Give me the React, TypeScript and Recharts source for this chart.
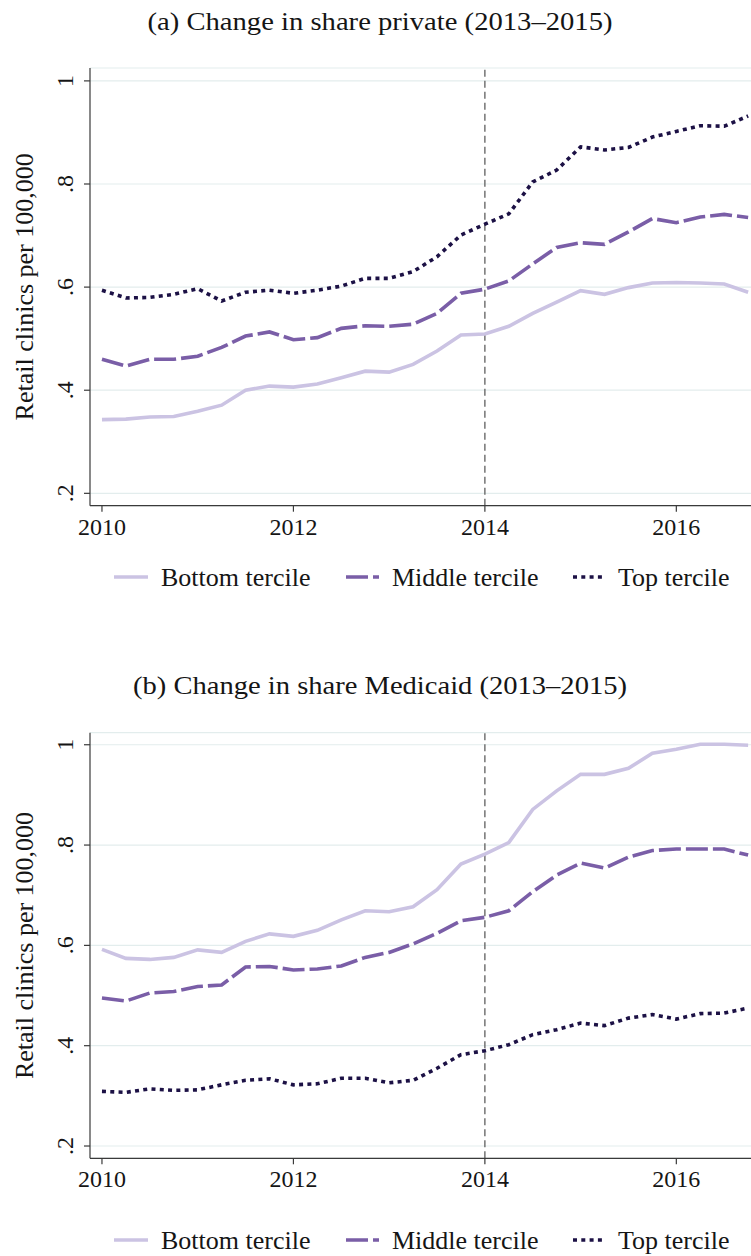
import React from 'react';
import { LineChart, Line, XAxis, YAxis, CartesianGrid, ReferenceLine, Label } from 'recharts';

// ── Data ───────────────────────────────────────────────────────
const QUARTERS = [
  2010, 2010.25, 2010.5, 2010.75, 2011, 2011.25, 2011.5, 2011.75,
  2012, 2012.25, 2012.5, 2012.75, 2013, 2013.25, 2013.5, 2013.75,
  2014, 2014.25, 2014.5, 2014.75, 2015, 2015.25, 2015.5, 2015.75,
  2016, 2016.25, 2016.5, 2016.75,
];

// (a) change in share private
const PRIVATE_BOTTOM = [
  0.343, 0.344, 0.348, 0.349, 0.359, 0.371, 0.400, 0.408,
  0.406, 0.412, 0.424, 0.437, 0.435, 0.450, 0.476, 0.507,
  0.509, 0.524, 0.549, 0.571, 0.593, 0.586, 0.599, 0.608,
  0.609, 0.608, 0.606, 0.590,
];
const PRIVATE_MIDDLE = [
  0.460, 0.447, 0.460, 0.460, 0.466, 0.483, 0.505, 0.513,
  0.498, 0.502, 0.520, 0.525, 0.524, 0.528, 0.549, 0.588,
  0.596, 0.612, 0.645, 0.677, 0.686, 0.683, 0.707, 0.733,
  0.725, 0.736, 0.741, 0.735,
];
const PRIVATE_TOP = [
  0.594, 0.579, 0.580, 0.586, 0.597, 0.573, 0.590, 0.594,
  0.588, 0.594, 0.602, 0.617, 0.617, 0.630, 0.659, 0.701,
  0.722, 0.742, 0.804, 0.827, 0.872, 0.866, 0.871, 0.891,
  0.902, 0.913, 0.912, 0.932,
];

// (b) change in share Medicaid
const MEDICAID_BOTTOM = [
  0.592, 0.574, 0.572, 0.576, 0.591, 0.586, 0.608, 0.623,
  0.618, 0.630, 0.651, 0.669, 0.667, 0.677, 0.711, 0.762,
  0.782, 0.805, 0.871, 0.908, 0.941, 0.941, 0.953, 0.983,
  0.991, 1.001, 1.001, 0.999,
];
const MEDICAID_MIDDLE = [
  0.495, 0.489, 0.505, 0.508, 0.518, 0.521, 0.557, 0.558,
  0.551, 0.553, 0.559, 0.576, 0.586, 0.603, 0.624, 0.649,
  0.656, 0.669, 0.707, 0.740, 0.764, 0.754, 0.776, 0.789,
  0.792, 0.792, 0.792, 0.780,
];
const MEDICAID_TOP = [
  0.309, 0.307, 0.314, 0.311, 0.312, 0.322, 0.331, 0.334,
  0.322, 0.324, 0.335, 0.335, 0.326, 0.331, 0.355, 0.382,
  0.390, 0.402, 0.422, 0.432, 0.445, 0.440, 0.455, 0.462,
  0.453, 0.464, 0.465, 0.475,
];

const X_TICKS = [2010, 2012, 2014, 2016];
const Y_TICKS = [0.2, 0.4, 0.6, 0.8, 1];
const POLICY_YEAR = 2014;
const LEGEND_LABELS = ['Bottom tercile', 'Middle tercile', 'Top tercile'];

// ── Styling ────────────────────────────────────────────────────
const FONT = '"Liberation Serif", "Times New Roman", serif';
const INK = '#151515';
const AXIS = '#3a3a3a';
const GRID = '#e3eded';

const SERIES = [
  { key: 'bottom', color: '#cbc3e3', dash: undefined as string | undefined },
  { key: 'middle', color: '#7a5ea7', dash: '22 5' },
  { key: 'top', color: '#1c1145', dash: '4 4.3' },
];

// legend sample / text placement
const LEGEND_SLOTS = [
  { x1: 114, x2: 148, tx: 161 },
  { x1: 346, x2: 379, tx: 392 },
  { x1: 573, x2: 603, tx: 618 },
];

const fmtY = (v: number) => (v === 1 ? '1' : String(Number(v.toFixed(1))).replace(/^0/, ''));

const YTick = (props: any) => {
  const { x, y, payload } = props;
  const bx = x - 11;
  return (
    <text x={bx} y={y} transform={`rotate(-90, ${bx}, ${y})`} textAnchor="middle"
      fontFamily={FONT} fontSize={24} fill={INK}>
      {fmtY(payload.value)}
    </text>
  );
};

const XTick = (props: any) => {
  const { x, y, payload } = props;
  return (
    <text x={x} y={y + 23} textAnchor="middle" fontFamily={FONT} fontSize={24} fill={INK}>
      {payload.value}
    </text>
  );
};

const YTitle = (props: any) => {
  const vb = props.viewBox;
  const cy = vb.y + vb.height / 2;
  return (
    <text x={33} y={cy} transform={`rotate(-90, 33, ${cy})`} textAnchor="middle"
      fontFamily={FONT} fontSize={26} fill={INK}>
      Retail clinics per 100,000
    </text>
  );
};

function PanelLegend({ top }: { top: number }) {
  return (
    <svg width={751} height={40} style={{ position: 'absolute', left: 0, top: top - 20 }}>
      {SERIES.map((s, i) => (
        <g key={s.key}>
          <line x1={LEGEND_SLOTS[i].x1} x2={LEGEND_SLOTS[i].x2} y1={20} y2={20}
            stroke={s.color} strokeWidth={3.6} strokeDasharray={s.dash} />
          <text x={LEGEND_SLOTS[i].tx} y={28.5} fontFamily={FONT} fontSize={26} fill={INK}>
            {LEGEND_LABELS[i]}
          </text>
        </g>
      ))}
    </svg>
  );
}

interface PanelProps {
  title: string;
  titleWidth: number;
  titleBaseline: number;
  top: number;
  height: number;
  marginTop: number;
  marginBottom: number;
  yDomain: [number, number];
  legendY: number;
  bottom: number[];
  middle: number[];
  top3: number[];
}

function Panel(p: PanelProps) {
  const data = QUARTERS.map((q, i) => ({
    q,
    bottom: p.bottom[i],
    middle: p.middle[i],
    top: p.top3[i],
  }));

  return (
    <div style={{ position: 'absolute', left: 0, top: p.top, width: 751, height: p.height }}>
      <svg width={751} height={60} style={{ position: 'absolute', left: 0, top: 0 }}>
        <text x={380} y={p.titleBaseline} textAnchor="middle" fontFamily={FONT} fontSize={25}
          fill={INK} textLength={p.titleWidth} lengthAdjust="spacingAndGlyphs">
          {p.title}
        </text>
      </svg>
      <div style={{ position: 'absolute', left: 0, top: 0 }}>
        <LineChart width={751} height={p.height} data={data}
          margin={{ top: p.marginTop, right: 0, bottom: p.marginBottom, left: 0 }}>
          <CartesianGrid vertical={false} stroke={GRID} strokeWidth={1.2} />
          <XAxis
            dataKey="q"
            type="number"
            domain={[2009.875, 2016.78]}
            allowDataOverflow
            ticks={X_TICKS}
            tick={<XTick />}
            tickSize={6}
            tickMargin={0}
            height={40}
            axisLine={{ stroke: AXIS, strokeWidth: 1.2 }}
            tickLine={{ stroke: AXIS, strokeWidth: 1.2 }}
          />
          <YAxis
            type="number"
            domain={p.yDomain}
            allowDataOverflow
            ticks={Y_TICKS}
            tick={<YTick />}
            tickSize={6}
            tickMargin={0}
            width={90}
            axisLine={{ stroke: AXIS, strokeWidth: 1.2 }}
            tickLine={{ stroke: AXIS, strokeWidth: 1.2 }}
          >
            <Label content={<YTitle />} />
          </YAxis>
          <ReferenceLine x={POLICY_YEAR} stroke="#6a6a6a" strokeWidth={1.4} strokeDasharray="7 4" />
          {SERIES.map((s) => (
            <Line
              key={s.key}
              type="linear"
              dataKey={s.key}
              stroke={s.color}
              strokeWidth={3.6}
              strokeDasharray={s.dash}
              dot={false}
              activeDot={false}
              isAnimationActive={false}
            />
          ))}
        </LineChart>
      </div>
      <PanelLegend top={p.legendY} />
    </div>
  );
}

export default function App() {
  return (
    <div style={{ position: 'absolute', left: 0, top: 0, width: 751, height: 1256, background: '#fff', overflow: 'hidden' }}>
      <Panel
        title="(a) Change in share private (2013–2015)"
        titleWidth={465}
        titleBaseline={30}
        top={0}
        height={640}
        marginTop={68}
        marginBottom={94.3}
        yDomain={[0.176, 1.025]}
        legendY={577}
        bottom={PRIVATE_BOTTOM}
        middle={PRIVATE_MIDDLE}
        top3={PRIVATE_TOP}
      />
      <Panel
        title="(b) Change in share Medicaid (2013–2015)"
        titleWidth={494}
        titleBaseline={54}
        top={640}
        height={616}
        marginTop={92.7}
        marginBottom={57.7}
        yDomain={[0.1755, 1.024]}
        legendY={600}
        bottom={MEDICAID_BOTTOM}
        middle={MEDICAID_MIDDLE}
        top3={MEDICAID_TOP}
      />
    </div>
  );
}
